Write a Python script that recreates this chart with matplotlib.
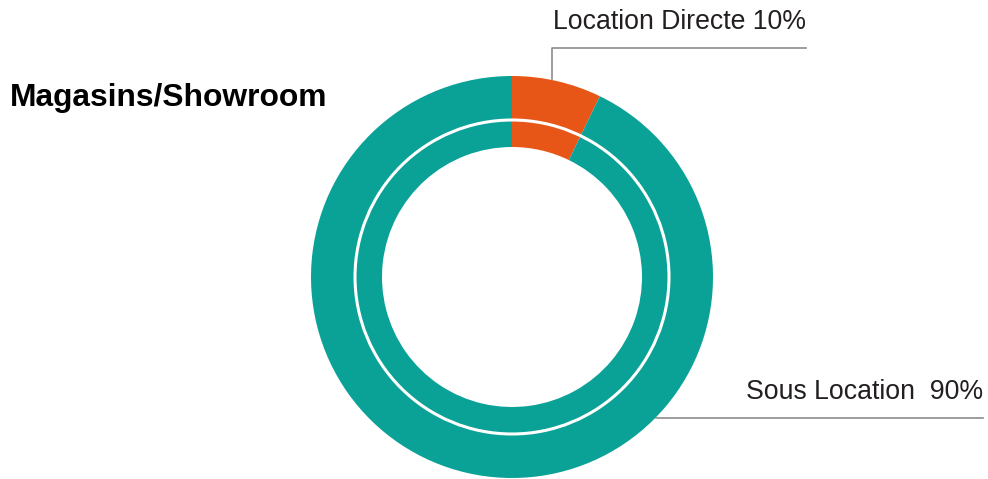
import matplotlib
matplotlib.use("Agg")
import matplotlib.pyplot as plt
from matplotlib.patches import Circle

plt.rcParams['font.family'] = ['Liberation Sans', 'DejaVu Sans']

title = "Magasins/Showroom"
categories = ["Location Directe", "Sous Location"]
label_pcts = ["10%", "90%"]
shares = [7.2, 92.8]  # visible slice sizes as drawn
colors = ["#e85617", "#0aa196"]

fig = plt.figure(figsize=(9.88, 4.79), dpi=100)
ax = fig.add_axes([0, 0, 1, 1])

cx, cy = 512, 479 - 277
R_out, R_in = 201, 130
ax.pie(shares, colors=colors, startangle=90, counterclock=False,
       radius=R_out, center=(cx, cy),
       wedgeprops=dict(width=R_out - R_in, linewidth=0))
ax.add_patch(Circle((cx, cy), 157, fill=False, edgecolor="white", linewidth=2.2))

ax.set_xlim(0, 988)
ax.set_ylim(0, 479)
ax.set_aspect("equal")
ax.axis("off")

line_c = "#8c8c8c"
tc = "#231f20"
# Location Directe
ax.plot([552, 552, 806], [479 - 79, 479 - 48, 479 - 48], color=line_c, lw=1.2)
ax.text(553, 479 - 22, f"{categories[0]} {label_pcts[0]}", fontsize=19.2,
        color=tc, va="center", ha="left")
# Sous Location
ax.plot([656, 983], [479 - 418, 479 - 418], color=line_c, lw=1.2)
ax.text(983, 479 - 392, f"{categories[1]}  {label_pcts[1]}", fontsize=19.2,
        color=tc, va="center", ha="right")

ax.text(10, 479 - 98, title, fontsize=22.9, fontweight="bold", color="black",
        va="center", ha="left")

fig.savefig("out.png", dpi=100, facecolor="white")
